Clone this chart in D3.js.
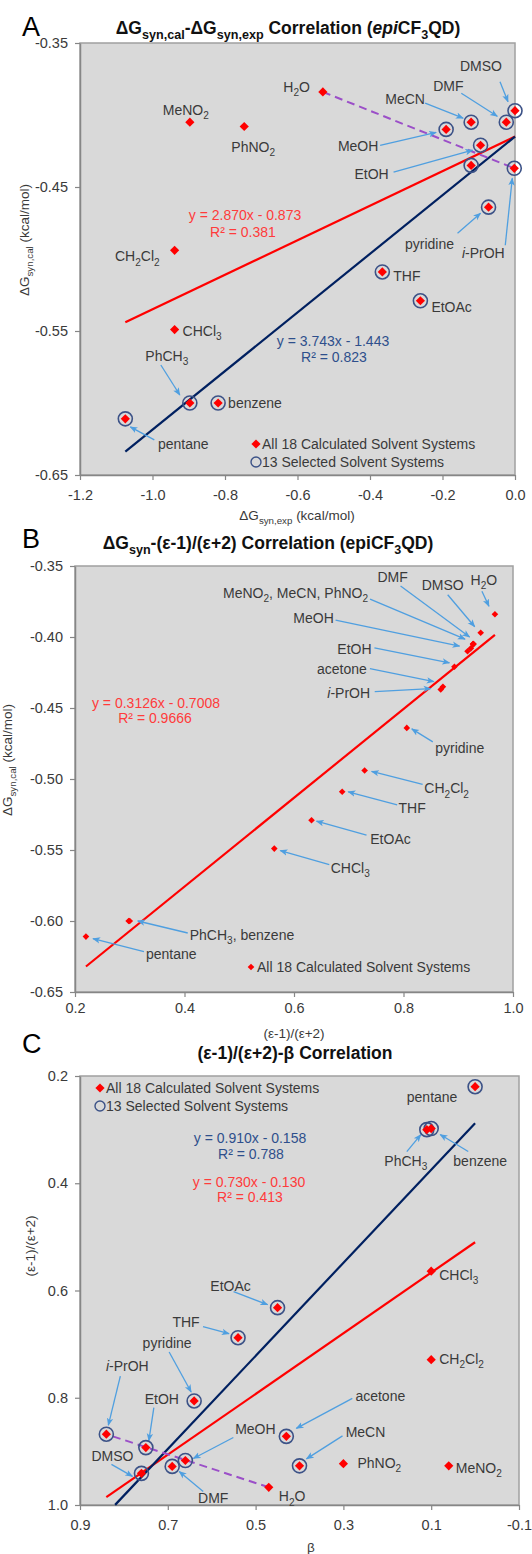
<!DOCTYPE html>
<html>
<head>
<meta charset="utf-8">
<script src="https://cdnjs.cloudflare.com/ajax/libs/d3/7.8.5/d3.min.js"></script>
<style>
  body { margin: 0; background: #fff; }
  svg { display: block; font-family: "Liberation Sans", Arial, sans-serif; }
</style>
</head>
<body>
<div id="chart"></div>
<script>
// solvent data
const solvents = ["pentane", "PhCH3", "benzene", "CHCl3", "CH2Cl2", "THF", "EtOAc", "pyridine", "i-PrOH",
                  "acetone", "EtOH", "MeOH", "MeCN", "DMF", "DMSO", "H2O", "MeNO2", "PhNO2"];
const dGexp  = [-1.075, -0.897, -0.819, -0.939, -0.939, -0.366, -0.261, -0.073, -0.002,
                -0.121, -0.095, -0.190, -0.121, -0.024, 0.000, -0.530, -0.897, -0.747];
const dGcal  = [-0.611, -0.600, -0.600, -0.549, -0.494, -0.509, -0.529, -0.464, -0.437,
                -0.435, -0.421, -0.410, -0.405, -0.405, -0.397, -0.384, -0.405, -0.408];
const epsFn  = [0.220, 0.300, 0.298, 0.564, 0.729, 0.688, 0.632, 0.806, 0.868,
                0.872, 0.893, 0.917, 0.927, 0.928, 0.941, 0.967, 0.927, 0.923];
const beta   = [0.00, 0.11, 0.10, 0.10, 0.10, 0.54, 0.45, 0.64, 0.84,
                0.43, 0.75, 0.66, 0.40, 0.69, 0.76, 0.47, 0.06, 0.30];
const selected = ["pentane", "PhCH3", "benzene", "THF", "EtOAc", "pyridine", "i-PrOH",
                  "acetone", "EtOH", "MeOH", "MeCN", "DMF", "DMSO"];
const dashedPair = ["H2O", "i-PrOH"];

// trend lines drawn on the plots: [x from, x to, slope, intercept]
const fitA_all = [-1.075, 0, 0.120, -0.415];
const fitA_sel = [-1.075, 0, 0.2035, -0.415];
const fitB_all = [0.220, 0.967, 0.3126, -0.7008];
const fitC_all = [0.00, 0.84, 0.566, 0.510];
const fitC_sel = [0.00, 0.82, 0.868, 0.288];

const eqA_all = ["y = 2.870x  - 0.873", "R² = 0.381"];
const eqA_sel = ["y = 3.743x  - 1.443", "R² = 0.823"];
const eqB_all = ["y = 0.3126x  - 0.7008", "R² = 0.9666"];
const eqC_sel = ["y = 0.910x  - 0.158", "R² = 0.788"];
const eqC_all = ["y = 0.730x  - 0.130", "R² = 0.413"];

const ticksA_x = [-1.2, -1.0, -0.8, -0.6, -0.4, -0.2, 0.0];
const ticksA_y = [-0.35, -0.45, -0.55, -0.65];
const ticksB_x = [0.2, 0.4, 0.6, 0.8, 1.0];
const ticksB_y = [-0.35, -0.40, -0.45, -0.50, -0.55, -0.60, -0.65];
const ticksC_x = [0.9, 0.7, 0.5, 0.3, 0.1, -0.1];
const ticksC_y = [0.2, 0.4, 0.6, 0.8, 1.0];

const legendAll = "All 18 Calculated Solvent Systems";
const legendSel = "13 Selected Solvent Systems";

const markup = {
  "PhCH3": "PhCH_{3}", "CHCl3": "CHCl_{3}", "CH2Cl2": "CH_{2}Cl_{2}", "i-PrOH": "*i*-PrOH",
  "H2O": "H_{2}O", "MeNO2": "MeNO_{2}", "PhNO2": "PhNO_{2}"
};

// label layout: [solvent, dx, dy, anchor, arrow [tailDx, tailDy, headDx, headDy] | null, text]
const labelsA = [
  ["H2O", -13, -5, "end", null],
  ["MeNO2", -4, -12, "middle", null],
  ["PhNO2", 9, 20, "middle", null],
  ["DMSO", -34, -45, "middle", [-15, -29, -7, -9]],
  ["DMF", -58, -36, "middle", [-45, -29, -9, -6]],
  ["MeCN", -66, -23, "middle", [-46, -19, -8, -4]],
  ["MeOH", -88, 17, "middle", [-66, 16, -10, 3]],
  ["EtOH", -109, 29, "middle", [-87, 27, -8, 5]],
  ["pyridine", -59, 37, "middle", [-31, 26, -8, 6]],
  ["i-PrOH", -31, 85, "middle", [-9, 77, -2, 10]],
  ["CH2Cl2", -15, 6, "end", null],
  ["CHCl3", 8, 1, "start", null],
  ["THF", 11, 4, "start", null],
  ["EtOAc", 11, 6, "start", null],
  ["PhCH3", -23, -47, "middle", [-29, -38, -10, -8]],
  ["benzene", 10, 0, "start", null],
  ["pentane", 58, 25, "middle", [29, 21, 5, 8]]
];
const labelsB = [
  ["H2O", -11, -34, "middle", [-13, -23, -6, -8]],
  ["DMSO", -38, -48, "middle", [-33, -38, -6, -6]],
  ["DMF", -81, -67, "middle", [-73, -58, -4, -7]],
  ["MeCN", -105, -51, "end", [-103, -45, -8, -5], "MeNO_{2}, MeCN, PhNO_{2}"],
  ["MeOH", -154, -33, "middle", [-132, -31, -8, -5]],
  ["EtOH", -100, -18, "middle", [-80, -19, -5, -4]],
  ["acetone", -101, -18, "middle", [-73, -18, -9, -5]],
  ["i-PrOH", -92, 3, "middle", [-66, 2, -10, -1]],
  ["pyridine", 53, 20, "middle", [26, 14, 5, 1]],
  ["CH2Cl2", 82, 18, "middle", [58, 14, 7, 1]],
  ["THF", 70, 16, "middle", [55, 13, 6, 0]],
  ["EtOAc", 79, 19, "middle", [55, 15, 5, 1]],
  ["CHCl3", 76, 19, "middle", [55, 16, 6, 2]],
  ["PhCH3", 60, 14, "start", [58, 12, 8, 0], "PhCH_{3}, benzene"],
  ["pentane", 60, 17, "start", [58, 15, 7, 2]]
];
const labelsC = [
  ["pentane", -43, 10, "middle", null],
  ["PhCH3", -21, 31, "middle", [-20, 22, -6, 5]],
  ["benzene", 49, 32, "middle", [37, 23, 9, 6]],
  ["CHCl3", 8, 4, "start", null],
  ["CH2Cl2", 8, -1, "start", null],
  ["EtOAc", -47, -22, "middle", [-44, -16, -10, -3]],
  ["THF", -52, -16, "middle", [-35, -11, -9, -4]],
  ["pyridine", -27, -58, "middle", [-25, -49, -3, -9]],
  ["i-PrOH", 21, -68, "middle", [14, -58, 2, -9]],
  ["EtOH", 16, -49, "middle", [8, -40, 3, -7]],
  ["acetone", 94, -40, "middle", [66, -38, 10, -8]],
  ["MeOH", 70, -31, "middle", [48, -23, 8, -2]],
  ["MeCN", 66, -34, "middle", [43, -30, 7, -7]],
  ["DMSO", -29, -17, "middle", [-30, -9, -9, 3]],
  ["DMF", 41, 32, "middle", [31, 25, 7, 5]],
  ["PhNO2", 14, -1, "start", null],
  ["MeNO2", 7, 2, "start", null],
  ["H2O", 10, 9, "start", null]
];

const W = 532, H = 1554;
const RED = "#ff0000", NAVY = "#002060", ARROW = "#4f9fe0", TXT = "#3a3a3a";
const EQRED = "#ff3b3b", EQBLUE = "#2e4f8c", RING = "#3c5287", DASH = "#9b4fc8";

const svg = d3.select("#chart").append("svg").attr("width", W).attr("height", H);

svg.append("defs").append("marker")
  .attr("id", "arr").attr("viewBox", "0 0 10 10")
  .attr("refX", 9).attr("refY", 5)
  .attr("markerWidth", 8).attr("markerHeight", 8)
  .attr("markerUnits", "userSpaceOnUse")
  .attr("orient", "auto")
  .append("path").attr("d", "M0,1 L10,5 L0,9 L2.5,5 Z").attr("fill", ARROW);

// text with _{sub} and *italic* pieces
function rich(text, str, size) {
  const parts = str.split(/(_\{[^}]*\}|\*[^*]+\*)/).filter(s => s.length);
  let shift = 0;
  parts.forEach(p => {
    let content = p, target = 0, small = false, ital = false;
    if (p.startsWith("_{")) { content = p.slice(2, -1); target = 0.3 * size; small = true; }
    else if (p.startsWith("*")) { content = p.slice(1, -1); ital = true; }
    const t = text.append("tspan").attr("dy", target - shift);
    shift = target;
    if (small) t.attr("font-size", size * 0.72);
    if (ital) t.attr("font-style", "italic");
    t.text(content);
  });
  return text;
}

function diamond(r) { return "M0," + (-r) + "L" + r + ",0L0," + r + "L" + (-r) + ",0Z"; }

const idx = {};
solvents.forEach((s, i) => idx[s] = i);

function panel(cfg) {
  const x = d3.scaleLinear().domain(cfg.xDomain).range(cfg.xRange);
  const y = d3.scaleLinear().domain(cfg.yDomain).range(cfg.yRange);
  const g = svg.append("g");
  const px = i => x(cfg.xs[i]), py = i => y(cfg.ys[i]);

  g.append("rect")
    .attr("x", cfg.xRange[0]).attr("y", d3.min(cfg.yRange))
    .attr("width", cfg.xRange[1] - cfg.xRange[0])
    .attr("height", Math.abs(cfg.yRange[1] - cfg.yRange[0]))
    .attr("fill", "#d9d9d9").attr("stroke", "#a0a0a0").attr("stroke-width", 1.5);

  const xAxis = g.append("g")
    .attr("transform", "translate(0," + d3.max(cfg.yRange) + ")")
    .call(d3.axisBottom(x).tickValues(cfg.xTicks).tickFormat(d => d.toFixed(1))
      .tickSize(5).tickSizeOuter(0).tickPadding(cfg.xPad));
  const yAxis = g.append("g")
    .attr("transform", "translate(" + cfg.xRange[0] + ",0)")
    .call(d3.axisLeft(y).tickValues(cfg.yTicks).tickFormat(d => d.toFixed(cfg.yDec))
      .tickSize(5).tickSizeOuter(0).tickPadding(7));
  [xAxis, yAxis].forEach(a => {
    a.select(".domain").attr("stroke", "#868686").attr("stroke-width", 1.5);
    a.selectAll(".tick line").attr("stroke", "#868686").attr("stroke-width", 1.2);
    a.selectAll("text").attr("fill", TXT).attr("font-size", 14.5)
      .attr("font-family", "'Liberation Sans', Arial, sans-serif");
  });

  // panel letter and title
  g.append("text").attr("x", 22).attr("y", cfg.letterY).attr("font-size", 27)
    .attr("fill", "#000").text(cfg.letter);
  rich(g.append("text").attr("x", cfg.titleX).attr("y", cfg.titleY)
    .attr("text-anchor", "middle").attr("font-weight", "bold").attr("font-size", 17.5)
    .attr("fill", "#111"), cfg.title, 17.5);

  // axis titles
  rich(g.append("text").attr("x", cfg.xTitle[0]).attr("y", cfg.xTitle[1])
    .attr("text-anchor", "middle").attr("font-size", 13.5).attr("fill", TXT), cfg.xLabel, 13.5);
  rich(g.append("text")
    .attr("transform", "translate(" + cfg.yTitle[0] + "," + cfg.yTitle[1] + ") rotate(-90)")
    .attr("text-anchor", "middle").attr("dy", "0.35em").attr("font-size", 13.5).attr("fill", TXT),
    cfg.yLabel, 13.5);

  // trend lines
  cfg.fits.forEach(f => {
    const p = f.v;
    g.append("line")
      .attr("x1", x(p[0])).attr("y1", y(p[2] * p[0] + p[3]))
      .attr("x2", x(p[1])).attr("y2", y(p[2] * p[1] + p[3]))
      .attr("stroke", f.color).attr("stroke-width", 2.2);
  });

  if (cfg.dashed) {
    const a = idx[dashedPair[0]], b = idx[dashedPair[1]];
    g.append("line").attr("x1", px(a)).attr("y1", py(a)).attr("x2", px(b)).attr("y2", py(b))
      .attr("stroke", DASH).attr("stroke-width", 2).attr("stroke-dasharray", "8,5");
  }

  // arrows and labels
  cfg.labels.forEach(l => {
    const i = idx[l[0]], cx = px(i), cy = py(i);
    if (l[4]) {
      g.append("line")
        .attr("x1", cx + l[4][0]).attr("y1", cy + l[4][1])
        .attr("x2", cx + l[4][2]).attr("y2", cy + l[4][3])
        .attr("stroke", ARROW).attr("stroke-width", 1.3).attr("marker-end", "url(#arr)");
    }
    rich(g.append("text").attr("x", cx + l[1]).attr("y", cy + l[2] + 5)
      .attr("text-anchor", l[3]).attr("font-size", 14).attr("fill", TXT),
      l[5] || markup[l[0]] || l[0], 14);
  });

  // selected rings and diamonds
  if (cfg.rings) {
    g.selectAll(".ring").data(selected).enter().append("circle")
      .attr("cx", d => px(idx[d])).attr("cy", d => py(idx[d])).attr("r", 7)
      .attr("fill", "none").attr("stroke", RING).attr("stroke-width", 1.6);
  }
  g.selectAll(".pt").data(solvents).enter().append("path")
    .attr("transform", (d, i) => "translate(" + px(i) + "," + py(i) + ")")
    .attr("d", diamond(cfg.dr)).attr("fill", RED);

  // equations
  cfg.eqs.forEach(e => {
    e.t.forEach((s, k) => {
      g.append("text").attr("x", e.pos[k][0]).attr("y", e.pos[k][1] + 5)
        .attr("text-anchor", "middle").attr("font-size", 14).attr("fill", e.color).text(s);
    });
  });

  // legend
  const L = cfg.legend;
  g.append("path").attr("transform", "translate(" + L.x + "," + L.y + ")")
    .attr("d", diamond(cfg.dr)).attr("fill", RED);
  g.append("text").attr("x", L.x + 6).attr("y", L.y + 5).attr("font-size", 14)
    .attr("fill", TXT).text(legendAll);
  if (cfg.rings) {
    g.append("circle").attr("cx", L.x).attr("cy", L.y + 18).attr("r", 5)
      .attr("fill", "none").attr("stroke", RING).attr("stroke-width", 1.4);
    g.append("text").attr("x", L.x + 6).attr("y", L.y + 23).attr("font-size", 14)
      .attr("fill", TXT).text(legendSel);
  }
}

panel({
  letter: "A", letterY: 36, titleX: 288, titleY: 34,
  title: "ΔG_{syn,cal}-ΔG_{syn,exp} Correlation  (*epi*CF_{3}QD)",
  xDomain: [-1.2, 0], xRange: [80, 515], yDomain: [-0.65, -0.35], yRange: [475, 43],
  xTicks: ticksA_x, yTicks: ticksA_y, yDec: 2, xPad: 10,
  xs: dGexp, ys: dGcal,
  xLabel: "ΔG_{syn,exp} (kcal/mol)", yLabel: "ΔG_{syn,cal} (kcal/mol)",
  xTitle: [297, 520], yTitle: [29, 240],
  fits: [{v: fitA_all, color: RED}, {v: fitA_sel, color: NAVY}],
  dashed: true, rings: true, dr: 4.6, labels: labelsA,
  eqs: [{t: eqA_all, color: EQRED, pos: [[245, 215], [243, 232]]},
        {t: eqA_sel, color: EQBLUE, pos: [[333, 341], [334, 357]]}],
  legend: {x: 256, y: 444}
});

panel({
  letter: "B", letterY: 548, titleX: 268, titleY: 549,
  title: "ΔG_{syn}-(ε-1)/(ε+2) Correlation (epiCF_{3}QD)",
  xDomain: [0.2, 1.0], xRange: [75, 513], yDomain: [-0.65, -0.35], yRange: [992, 566],
  xTicks: ticksB_x, yTicks: ticksB_y, yDec: 2, xPad: 6,
  xs: epsFn, ys: dGcal,
  xLabel: "(ε-1)/(ε+2)", yLabel: "ΔG_{syn,cal} (kcal/mol)",
  xTitle: [294, 1038], yTitle: [12, 760],
  fits: [{v: fitB_all, color: RED}],
  dashed: false, rings: false, dr: 3.3, labels: labelsB,
  eqs: [{t: eqB_all, color: EQRED, pos: [[156, 703], [155, 718]]}],
  legend: {x: 251, y: 967}
});

panel({
  letter: "C", letterY: 1053, titleX: 295, titleY: 1059,
  title: "(ε-1)/(ε+2)-β Correlation",
  xDomain: [0.9, -0.1], xRange: [80, 519], yDomain: [0.2, 1.0], yRange: [1076, 1505],
  xTicks: ticksC_x, yTicks: ticksC_y, yDec: 1, xPad: 10,
  xs: beta, ys: epsFn,
  xLabel: "β", yLabel: "(ε-1)/(ε+2)",
  xTitle: [311, 1552], yTitle: [35, 1246],
  fits: [{v: fitC_all, color: RED}, {v: fitC_sel, color: NAVY}],
  dashed: true, rings: true, dr: 4.6, labels: labelsC,
  eqs: [{t: eqC_sel, color: EQBLUE, pos: [[250, 1138], [251, 1154]]},
        {t: eqC_all, color: EQRED, pos: [[249, 1182], [250, 1197]]}],
  legend: {x: 100, y: 1088}
});
</script>
</body>
</html>
